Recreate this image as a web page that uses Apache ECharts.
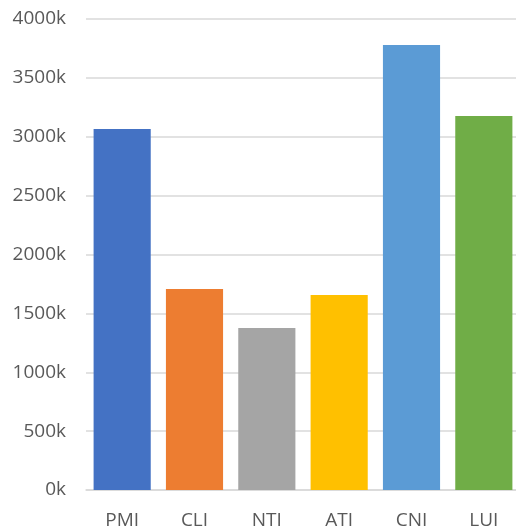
<!DOCTYPE html>
<html><head><meta charset="utf-8">
<script src="https://cdn.jsdelivr.net/npm/echarts@6/dist/echarts.min.js"></script>
<style>html,body{margin:0;padding:0;background:#fff}#c{width:516px;height:529px}</style>
</head><body><div id="c"></div>
<script>
var categories = ["PMI","CLI","NTI","ATI","CNI","LUI"];
var values = [3066, 1707, 1376, 1656, 3779, 3176];
var colors = ["#4472C4","#ED7D31","#A5A5A5","#FFC000","#5B9BD5","#70AD47"];
var chart = echarts.init(document.getElementById('c'));
chart.setOption({
  animation: false,
  grid: {left: 86, top: 19, width: 434, bottom: 39, containLabel: false, outerBoundsMode: 'none'},
  xAxis: {
    type: 'category', data: categories,
    axisLine: {show: true, lineStyle: {color: '#d9d9d9', width: 1.5}},
    axisTick: {show: false},
    axisLabel: {color: '#595959', fontSize: 19, fontFamily: 'Open Sans', margin: 21}
  },
  yAxis: {
    type: 'value', min: 0, max: 4000, interval: 500,
    axisLine: {show: false}, axisTick: {show: false},
    splitLine: {lineStyle: {color: '#d9d9d9', width: 1.5}},
    axisLabel: {color: '#595959', fontSize: 19, fontFamily: 'Open Sans', margin: 20,
      formatter: function(v){return v + 'k';}}
  },
  series: [{
    type: 'bar', barWidth: '79%',
    data: values.map(function(v, i){ return {value: v, itemStyle: {color: colors[i]}}; })
  }]
});
</script></body></html>
